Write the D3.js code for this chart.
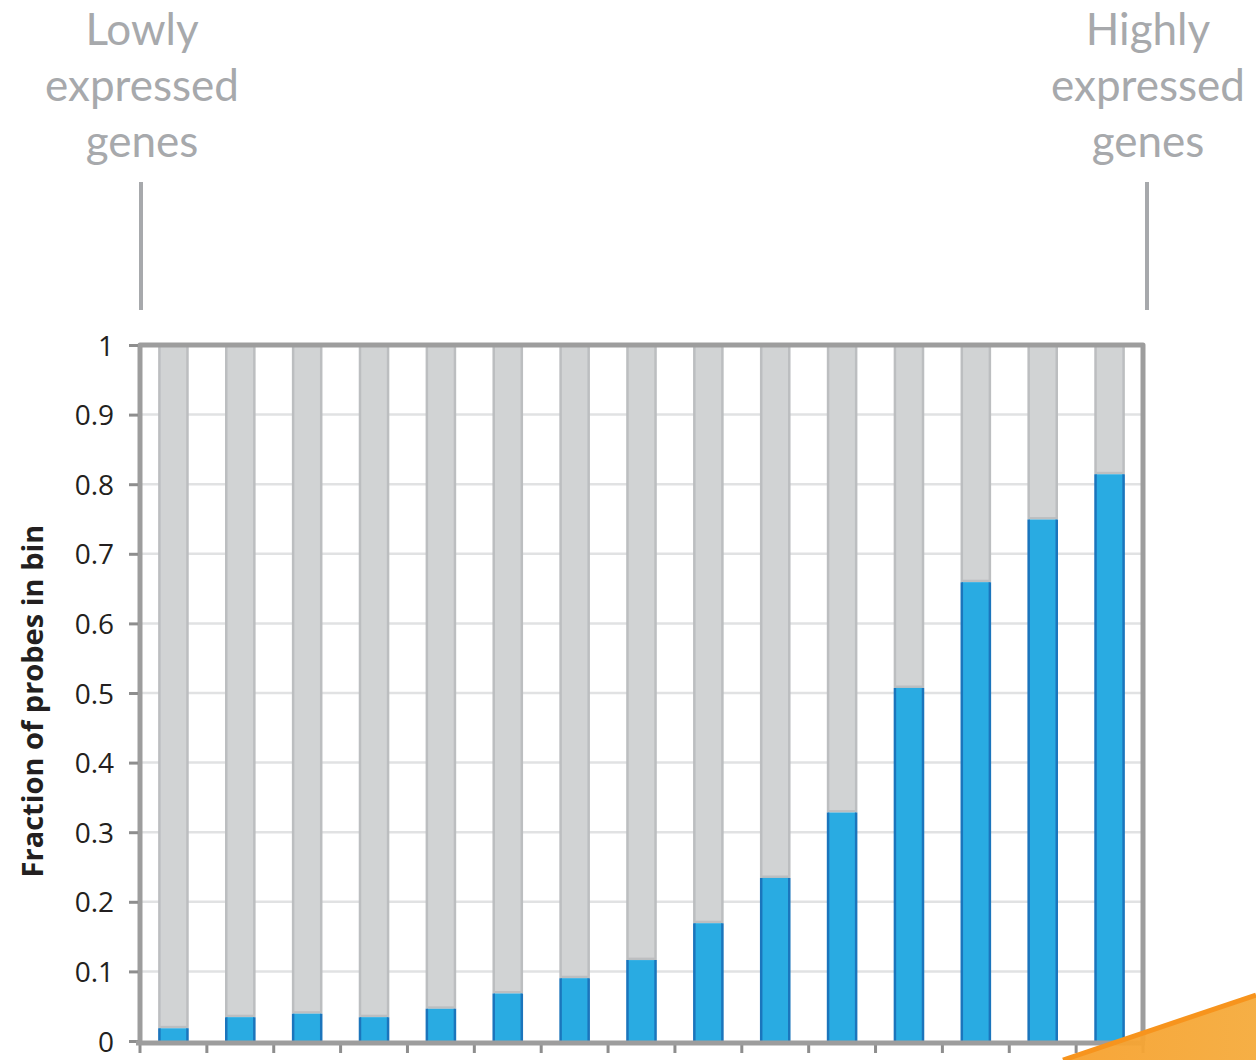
<!DOCTYPE html>
<html lang="en">
<head>
    <meta charset="UTF-8">
    <script src="https://d3js.org/d3.v7.min.js"></script>
    <style>
        body { margin: 0; background: #fff; }
    </style>
</head>
<body>
<div id="chart"></div>
<script>
    // fraction of probes per expression bin (low -> high)
    var bins = d3.range(1, 16);
    var detected = [0.020, 0.036, 0.041, 0.036, 0.048, 0.070, 0.092, 0.118, 0.171, 0.236, 0.330, 0.509, 0.661, 0.751, 0.816];
    var yTicks = [0, 0.1, 0.2, 0.3, 0.4, 0.5, 0.6, 0.7, 0.8, 0.9, 1];
    var yTickLabels = ["0", "0.1", "0.2", "0.3", "0.4", "0.5", "0.6", "0.7", "0.8", "0.9", "1"];

    var width = 1256,
        height = 1060;

    var svg = d3.select("#chart")
        .append("svg")
        .attr("width", width)
        .attr("height", height);

    // plot box (note: "top" is reserved on window, so use other names)
    var pLeft = 140, pRight = 1143, pTop = 345, pBottom = 1041;

    var x = d3.scaleBand()
        .domain(bins)
        .range([pLeft, pRight])
        .paddingInner(0.55)
        .paddingOuter(0.275);

    var y = d3.scaleLinear()
        .domain([0, 1])
        .range([pBottom, pTop]);

    // gridlines
    svg.append("g")
        .selectAll("line")
        .data(yTicks.slice(1))
        .enter()
        .append("line")
        .attr("x1", pLeft)
        .attr("x2", pRight)
        .attr("y1", function (d) { return y(d); })
        .attr("y2", function (d) { return y(d); })
        .style("stroke", "#e1e2e3")
        .style("stroke-width", 2.5);

    var bw = x.bandwidth() - 2;

    // grey part (not detected)
    svg.append("g")
        .selectAll("rect")
        .data(detected)
        .enter()
        .append("rect")
        .attr("x", function (d, i) { return x(bins[i]) + 1; })
        .attr("width", bw)
        .attr("y", y(1))
        .attr("height", function (d) { return y(d) - y(1); })
        .style("fill", "#d1d3d4")
        .style("stroke", "#bcbec0")
        .style("stroke-width", 2.5);

    // blue part (detected), darker edge on the sides only
    svg.append("g")
        .selectAll("rect")
        .data(detected)
        .enter()
        .append("rect")
        .attr("x", function (d, i) { return x(bins[i]) + 1; })
        .attr("width", bw)
        .attr("y", function (d) { return y(d) + 1.2; })
        .attr("height", function (d) { return y(0) - y(d) - 1.2; })
        .style("fill", "#29abe2")
        .style("stroke", "#1b75bc")
        .style("stroke-width", 2.5)
        .style("stroke-dasharray", function (d) {
            var h = y(0) - y(d) - 1.2;
            return "0 " + bw + " " + h + " " + bw + " " + h;
        });

    // frame
    svg.append("path")
        .attr("d", "M" + pLeft + "," + pBottom + "V" + pTop + "H" + pRight + "V" + pBottom)
        .style("fill", "none")
        .style("stroke", "#9d9d9d")
        .style("stroke-width", 5)
        .style("stroke-linejoin", "round");

    // y axis ticks and labels
    var yAxis = d3.axisLeft(y)
        .tickValues(yTicks)
        .tickFormat(function (d, i) { return yTickLabels[i]; })
        .tickSize(9)
        .tickPadding(15);

    var gy = svg.append("g")
        .attr("transform", "translate(" + (pLeft - 2) + ",0)")
        .call(yAxis);
    gy.select(".domain").remove();
    gy.selectAll(".tick line").style("stroke", "#8e8e8e").style("stroke-width", 3);
    gy.selectAll(".tick text")
        .attr("dy", "0.36em")
        .style("font-family", "'Open Sans', 'Noto Sans', sans-serif")
        .style("font-size", "28px")
        .style("fill", "#231f20");

    // x axis: ticks between bins, no labels
    var xEdges = bins.map(function (b) { return x(b) - x.step() * x.paddingInner() / 2; }).concat([pRight]);
    svg.append("g")
        .selectAll("line")
        .data(xEdges)
        .enter()
        .append("line")
        .attr("x1", function (d) { return d; })
        .attr("x2", function (d) { return d; })
        .attr("y1", pBottom)
        .attr("y2", pBottom + 12)
        .style("stroke", "#8e8e8e")
        .style("stroke-width", 3);

    svg.append("line")
        .attr("x1", pLeft - 4)
        .attr("x2", pRight + 2)
        .attr("y1", pBottom + 2)
        .attr("y2", pBottom + 2)
        .style("stroke", "#9d9d9d")
        .style("stroke-width", 5);

    // y axis title
    svg.append("text")
        .attr("transform", "translate(43," + ((pTop + pBottom) / 2 + 8) + ") rotate(-90)")
        .attr("text-anchor", "middle")
        .style("font-family", "'Open Sans', 'Noto Sans', sans-serif")
        .style("font-weight", "bold")
        .style("font-size", "29px")
        .style("fill", "#231f20")
        .text("Fraction of probes in bin");

    // annotations above the chart
    var notes = [
        { lines: ["Lowly", "expressed", "genes"], cx: 142 },
        { lines: ["Highly", "expressed", "genes"], cx: 1148 }
    ];
    notes.forEach(function (n) {
        var t = svg.append("text")
            .attr("text-anchor", "middle")
            .style("font-family", "Lato, 'Open Sans', sans-serif")
            .style("font-size", "44px")
            .style("fill", "#a7a9ac");
        n.lines.forEach(function (l, i) {
            t.append("tspan")
                .attr("x", n.cx)
                .attr("y", 45 + i * 56)
                .text(l);
        });
        svg.append("line")
            .attr("x1", n.cx - 1)
            .attr("x2", n.cx - 1)
            .attr("y1", 182)
            .attr("y2", 310)
            .style("stroke", "#a7a9ac")
            .style("stroke-width", 4);
    });

    // orange slide decoration, bottom right
    var grad = svg.append("defs").append("linearGradient")
        .attr("id", "org")
        .attr("x1", "0").attr("y1", "0").attr("x2", "1").attr("y2", "0");
    grad.append("stop").attr("offset", "0").attr("stop-color", "#f7a12e");
    grad.append("stop").attr("offset", "1").attr("stop-color", "#f5ab3c");

    svg.append("polygon")
        .attr("points", "1063,1060 1256,995 1256,1060")
        .style("fill", "url(#org)")
        .style("opacity", 0.95);
    svg.append("line")
        .attr("x1", 1063).attr("y1", 1060)
        .attr("x2", 1256).attr("y2", 995)
        .style("stroke", "#f7941d")
        .style("stroke-width", 5);
</script>
</body>
</html>
